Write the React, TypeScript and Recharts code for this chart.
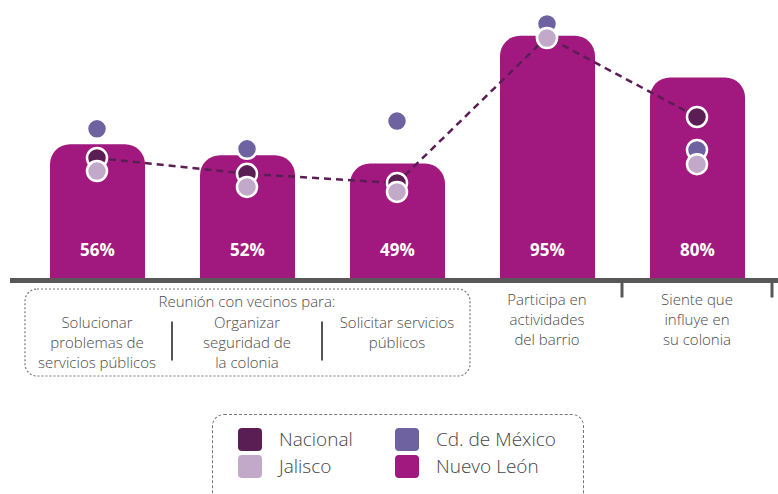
import { ComposedChart, Bar, Line, XAxis, YAxis, LabelList } from 'recharts';

const categories = [
  'Solucionar problemas de servicios públicos',
  'Organizar seguridad de la colonia',
  'Solicitar servicios públicos',
  'Participa en actividades del barrio',
  'Siente que influye en su colonia',
];
const tickLines = [
  ['Solucionar', 'problemas de', 'servicios públicos'],
  ['Organizar', 'seguridad de', 'la colonia'],
  ['Solicitar servicios', 'públicos'],
  ['Participa en', 'actividades', 'del barrio'],
  ['Siente que', 'influye en', 'su colonia'],
];
const groupLabel = 'Reunión con vecinos para:';

const nuevoLeon = [56, 52, 49, 95, 80];
const nacional = [51, 45.3, 42, 94.6, 65.8];
const cdmx = [61.5, 54.3, 64.3, 99.3, 53.9];
const jalisco = [46.3, 40.6, 38.8, 94.2, 48.8];

const legendRows = [
  ['Nacional', 'Cd. de México'],
  ['Jalisco', 'Nuevo León'],
];

const COLORS: Record<string, string> = {
  'Nacional': '#5a1e55',
  'Cd. de México': '#6e62a0',
  'Jalisco': '#c3a9c9',
  'Nuevo León': '#a1197e',
};

const data = categories.map((name, i) => ({
  name,
  nuevoLeon: nuevoLeon[i],
  nacional: nacional[i],
  cdmx: cdmx[i],
  jalisco: jalisco[i],
}));

const FONT = '"Open Sans", Lato, sans-serif';
const TEXT = '#4a4a4a';
const BAND = 150;

const makeDot = (color: string) => (props: any) => {
  const { cx, cy, index } = props;
  if (cx == null || cy == null) return <g key={index} />;
  return <circle key={index} cx={cx} cy={cy} r={10} fill={color} stroke="#fff" strokeWidth={2.5} />;
};

const renderTick = (props: any) => {
  const { x, y, payload } = props;
  const i = payload.index;
  const lines = tickLines[i];
  const lh = 20;
  const grouped = i < 3;
  const start = grouped ? y + 41 : y + 18;
  return (
    <g>
      {lines.map((t, k) => (
        <text key={k} x={x} y={start + k * lh} textAnchor="middle" dominantBaseline="central"
          fontFamily={FONT} fontSize={15} fontWeight={300} fill={TEXT}>{t}</text>
      ))}
      {i < 2 && (
        <line x1={x + BAND / 2} x2={x + BAND / 2} y1={y + 41} y2={y + 80} stroke="#555" strokeWidth={2} />
      )}
      {i >= 3 && (
        <line x1={x + BAND / 2} x2={x + BAND / 2} y1={y} y2={y + 17} stroke="#58585a" strokeWidth={3} />
      )}
      {i === 1 && (
        <g>
          <text x={x} y={y + 20.5} textAnchor="middle" dominantBaseline="central"
            fontFamily={FONT} fontSize={15} fontWeight={300} fill={TEXT}>{groupLabel}</text>
          <rect x={x - BAND * 1.5 + 3} y={y + 8.5} width={BAND * 3 - 5} height={87} rx={12}
            fill="none" stroke="#777" strokeWidth={1.2} strokeDasharray="2 2" />
        </g>
      )}
    </g>
  );
};

const renderBarLabel = (props: any) => {
  const { x, y, width, height, value } = props;
  return (
    <text x={x + width / 2} y={y + height - 25} textAnchor="middle" fontFamily={FONT}
      fontSize={17} fontWeight={700} fill="#fff">{`${value}%`}</text>
  );
};

export default function App() {
  return (
    <div style={{ position: 'absolute', left: 0, top: 0, width: 778, height: 494, overflow: 'hidden', background: '#fff' }}>
      <ComposedChart width={778} height={494} data={data} margin={{ top: 0, right: 0, bottom: 0, left: 10 }}>
        <XAxis dataKey="name" height={213.5} interval={0} tickLine={false} tickSize={0} tickMargin={0}
          padding={{ left: 12, right: 6 }} axisLine={{ stroke: '#58585a', strokeWidth: 5 }} tick={renderTick} />
        <YAxis hide type="number" domain={[6.9, 107.9]} allowDataOverflow />
        <Bar dataKey="nuevoLeon" name="Nuevo León" fill={COLORS['Nuevo León']} barSize={95}
          radius={[20, 20, 0, 0]} isAnimationActive={false}>
          <LabelList dataKey="nuevoLeon" content={renderBarLabel} />
        </Bar>
        <Line dataKey="nacional" name="Nacional" type="linear" stroke={COLORS['Nacional']} strokeWidth={2.5}
          strokeDasharray="7 5" dot={makeDot(COLORS['Nacional'])} activeDot={false} isAnimationActive={false} />
        <Line dataKey="cdmx" name="Cd. de México" stroke="none" dot={makeDot(COLORS['Cd. de México'])}
          activeDot={false} isAnimationActive={false} />
        <Line dataKey="jalisco" name="Jalisco" stroke="none" dot={makeDot(COLORS['Jalisco'])}
          activeDot={false} isAnimationActive={false} />
      </ComposedChart>
      <div style={{
        position: 'absolute', left: 212, top: 414, width: 372, height: 100, boxSizing: 'border-box',
        border: '1.2px dashed #777', borderRadius: 12, fontFamily: FONT,
      }}>
        {legendRows.map((row, r) => (
          <div key={r} style={{ position: 'absolute', top: 13 + r * 27, left: 0, display: 'flex' }}>
            {row.map((name, c) => (
              <div key={name} style={{ display: 'flex', alignItems: 'center', position: 'absolute', left: 25 + c * 157, width: 170 }}>
                <span style={{ width: 24, height: 23, borderRadius: 4, background: COLORS[name], display: 'inline-block' }} />
                <span style={{ marginLeft: 17, fontSize: 19, fontWeight: 300, color: '#444', lineHeight: '23px', whiteSpace: 'nowrap' }}>{name}</span>
              </div>
            ))}
          </div>
        ))}
      </div>
    </div>
  );
}
